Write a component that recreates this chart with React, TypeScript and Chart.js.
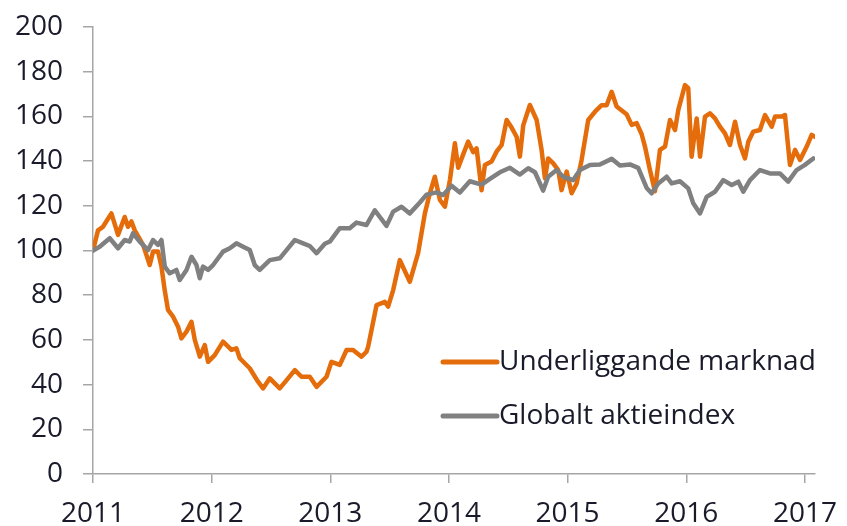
import React, { useEffect, useRef } from "react";
import { Chart, registerables } from "chart.js";

Chart.register(...registerables);

const seriesNames = ["Underliggande marknad", "Globalt aktieindex"];
const yTickValues = [0, 20, 40, 60, 80, 100, 120, 140, 160, 180, 200];
const xTickYears = [2011, 2012, 2013, 2014, 2015, 2016, 2017];

// Underliggande marknad (fractional year, index value)
const underliggandeX = [
  2011.0, 2011.042, 2011.084, 2011.155, 2011.211, 2011.267, 2011.295, 2011.324, 2011.352, 2011.422,
  2011.478, 2011.506, 2011.548, 2011.577, 2011.605, 2011.632, 2011.675, 2011.717, 2011.745, 2011.788,
  2011.83, 2011.858, 2011.9, 2011.942, 2011.97, 2012.026, 2012.096, 2012.167, 2012.209, 2012.237,
  2012.321, 2012.391, 2012.433, 2012.49, 2012.574, 2012.644, 2012.701, 2012.757, 2012.827, 2012.884,
  2012.968, 2013.01, 2013.08, 2013.137, 2013.192, 2013.263, 2013.305, 2013.319, 2013.39, 2013.46,
  2013.487, 2013.53, 2013.586, 2013.67, 2013.74, 2013.797, 2013.839, 2013.881, 2013.924, 2013.966,
  2014.008, 2014.05, 2014.078, 2014.12, 2014.162, 2014.204, 2014.233, 2014.275, 2014.303, 2014.359,
  2014.401, 2014.444, 2014.486, 2014.528, 2014.57, 2014.598, 2014.626, 2014.682, 2014.739, 2014.781,
  2014.809, 2014.836, 2014.879, 2014.921, 2014.949, 2014.992, 2015.034, 2015.076, 2015.118, 2015.174,
  2015.231, 2015.287, 2015.329, 2015.371, 2015.413, 2015.497, 2015.54, 2015.582, 2015.624, 2015.652,
  2015.694, 2015.736, 2015.778, 2015.821, 2015.863, 2015.905, 2015.933, 2015.989, 2016.017, 2016.045,
  2016.088, 2016.116, 2016.158, 2016.2, 2016.242, 2016.284, 2016.326, 2016.368, 2016.411, 2016.453,
  2016.495, 2016.523, 2016.565, 2016.621, 2016.664, 2016.72, 2016.748, 2016.804, 2016.832, 2016.874,
  2016.917, 2016.959, 2017.015, 2017.057, 2017.085,
];
const underliggandeY = [
  100, 109, 110.6, 116.6, 107, 115, 110.6, 113, 109, 102.5,
  93.5, 99.5, 99.5, 92.8, 82, 73.4, 70.4, 65.9, 60.7, 63.7,
  68.1, 60, 52.5, 57.7, 50.2, 53.2, 59.2, 55.5, 56.2, 51.8,
  47.3, 41.3, 38.3, 42.8, 38.3, 42.8, 46.5, 43.5, 43.5, 39,
  43.5, 50.2, 48.8, 55.5, 55.5, 52.5, 54.7, 57, 75.6, 77,
  74.9, 82.3, 95.7, 86, 98.8, 116.6, 125.6, 133, 122.6, 119.6,
  131.5, 148, 137, 143, 148.7, 144, 145.7, 127, 138.3, 139.8,
  144.2, 147.2, 158.4, 155, 150.9, 142, 156, 165.1, 158.4, 144.9,
  132.3, 141.2, 139, 136, 127, 135.3, 125.6, 130, 140.5, 158.4,
  162.1, 165, 165, 171, 164.4, 161, 156.2, 157, 152, 146.5,
  136, 126.5, 145, 146.5, 158.4, 153.9, 162.9, 174, 172.6, 142,
  159.1, 142, 159.9, 161.4, 159.1, 155.4, 152.4, 147.2, 157.6, 147.2,
  141.2, 148.7, 153.2, 153.9, 160.6, 155.4, 159.9, 159.9, 160.6, 138.3,
  145, 140.5, 146.5, 151.7, 150.9,
];

// Globalt aktieindex (fractional year, index value)
const globaltX = [
  2011.0, 2011.056, 2011.141, 2011.211, 2011.267, 2011.309, 2011.337, 2011.394, 2011.464, 2011.506,
  2011.548, 2011.577, 2011.605, 2011.647, 2011.703, 2011.731, 2011.788, 2011.83, 2011.872, 2011.9,
  2011.927, 2011.97, 2012.012, 2012.096, 2012.153, 2012.209, 2012.265, 2012.321, 2012.363, 2012.405,
  2012.49, 2012.574, 2012.631, 2012.701, 2012.771, 2012.827, 2012.884, 2012.954, 2012.996, 2013.08,
  2013.164, 2013.221, 2013.305, 2013.375, 2013.474, 2013.53, 2013.6, 2013.67, 2013.755, 2013.811,
  2013.895, 2013.951, 2014.022, 2014.092, 2014.176, 2014.275, 2014.345, 2014.429, 2014.514, 2014.598,
  2014.668, 2014.725, 2014.794, 2014.836, 2014.907, 2014.963, 2015.047, 2015.104, 2015.188, 2015.272,
  2015.371, 2015.441, 2015.525, 2015.595, 2015.666, 2015.708, 2015.764, 2015.835, 2015.877, 2015.947,
  2016.017, 2016.059, 2016.116, 2016.172, 2016.242, 2016.312, 2016.383, 2016.439, 2016.481, 2016.537,
  2016.621, 2016.705, 2016.789, 2016.859, 2016.93, 2017.0, 2017.071,
];
const globaltY = [
  100, 101.7, 105.5, 101, 104.7, 104, 107.7, 104, 100.2, 104.7,
  102.5, 104.7, 92.8, 89.8, 91.3, 86.8, 91.3, 97.2, 93.5, 87.6,
  92.8, 91.3, 93.5, 99.5, 101, 103.2, 101.7, 100.2, 93.5, 91.3,
  95.7, 96.5, 100.2, 104.7, 103.2, 102, 98.8, 103, 104, 110,
  110, 112.5, 111.4, 118, 111, 117.4, 119.6, 116.6, 121.5, 125,
  126, 124.8, 129, 126, 131, 129.5, 132, 135, 137, 134,
  136.8, 135, 126.8, 133, 136, 133, 131.5, 136, 138.3, 138.5,
  141, 138, 138.5, 137, 128, 125.6, 130, 133, 130, 131,
  127.8, 121.1, 116.6, 124, 126.3, 131.5, 129.3, 130.8, 126.3, 131.5,
  136, 134.5, 134.5, 130.8, 136, 138.3, 141.2,
];

const ORANGE = "#E46C0A";
const GREY = "#808080";
const AXIS = "#A6A6A6";
const TEXT = "#1A1A2A";
const FONT = "'Open Sans', 'Noto Sans', sans-serif";

const legendPlugin = {
  id: "customLegend",
  afterDatasetsDraw(chart: any) {
    const { ctx, chartArea } = chart;
    const items = [
      { label: seriesNames[0], color: ORANGE },
      { label: seriesNames[1], color: GREY },
    ];
    ctx.save();
    ctx.font = `28px ${FONT}`;
    ctx.textBaseline = "middle";
    ctx.textAlign = "left";
    items.forEach((it, i) => {
      const y = chartArea.top + 335 + i * 54;
      const x0 = chartArea.left + 350;
      ctx.strokeStyle = it.color;
      ctx.lineWidth = 5;
      ctx.lineCap = "round";
      ctx.beginPath();
      ctx.moveTo(x0, y);
      ctx.lineTo(x0 + 54, y);
      ctx.stroke();
      ctx.fillStyle = TEXT;
      ctx.fillText(it.label, x0 + 56, y);
    });
    ctx.restore();
  },
};

export default function App() {
  const canvasRef = useRef<HTMLCanvasElement | null>(null);

  useEffect(() => {
    if (!canvasRef.current) return;
    const chart = new Chart(canvasRef.current, {
      type: "line",
      data: {
        datasets: [
          {
            label: seriesNames[0],
            data: underliggandeX.map((x, i) => ({ x, y: underliggandeY[i] })),
            borderColor: ORANGE,
            borderWidth: 4.5,
            pointRadius: 0,
            tension: 0,
            borderJoinStyle: "round",
            borderCapStyle: "round",
            order: 1,
          },
          {
            label: seriesNames[1],
            data: globaltX.map((x, i) => ({ x, y: globaltY[i] })),
            borderColor: GREY,
            borderWidth: 4.5,
            pointRadius: 0,
            tension: 0,
            borderJoinStyle: "round",
            borderCapStyle: "round",
            order: 0,
          },
        ],
      },
      options: {
        animation: false,
        responsive: true,
        maintainAspectRatio: false,
        layout: { padding: { top: 27, right: 32, left: 0, bottom: 0 } },
        plugins: {
          legend: { display: false },
          tooltip: { enabled: false },
        },
        scales: {
          x: {
            type: "linear",
            min: 2011,
            max: 2017.085,
            afterBuildTicks: (scale: any) => {
              scale.ticks = xTickYears.map((v) => ({ value: v }));
            },
            afterFit: (scale: any) => {
              scale.height = 52;
              scale.paddingLeft = 0;
              scale.paddingRight = 0;
            },
            ticks: {
              autoSkip: false,
              maxRotation: 0,
              padding: 14,
              color: TEXT,
              font: { family: FONT, size: 28 },
              callback: (v: any) => String(v),
            },
            grid: {
              drawOnChartArea: false,
              drawTicks: true,
              tickLength: 9,
              color: AXIS,
              lineWidth: 1.5,
            },
            border: { display: true, color: AXIS, width: 1.5 },
          },
          y: {
            min: 0,
            max: 200,
            afterBuildTicks: (scale: any) => {
              scale.ticks = yTickValues.map((v) => ({ value: v }));
            },
            afterFit: (scale: any) => {
              scale.width = 93;
              scale.paddingTop = 0;
              scale.paddingBottom = 0;
            },
            ticks: {
              padding: 20,
              color: TEXT,
              font: { family: FONT, size: 28 },
              callback: (v: any) => String(v),
            },
            grid: {
              drawOnChartArea: false,
              drawTicks: true,
              tickLength: 10,
              color: AXIS,
              lineWidth: 1.5,
            },
            border: { display: true, color: AXIS, width: 1.5 },
          },
        },
      },
      plugins: [legendPlugin],
    });
    return () => chart.destroy();
  }, []);

  return (
    <div style={{ position: "absolute", left: 0, top: 0, width: 847, height: 526, background: "#fff" }}>
      <canvas ref={canvasRef} />
    </div>
  );
}
